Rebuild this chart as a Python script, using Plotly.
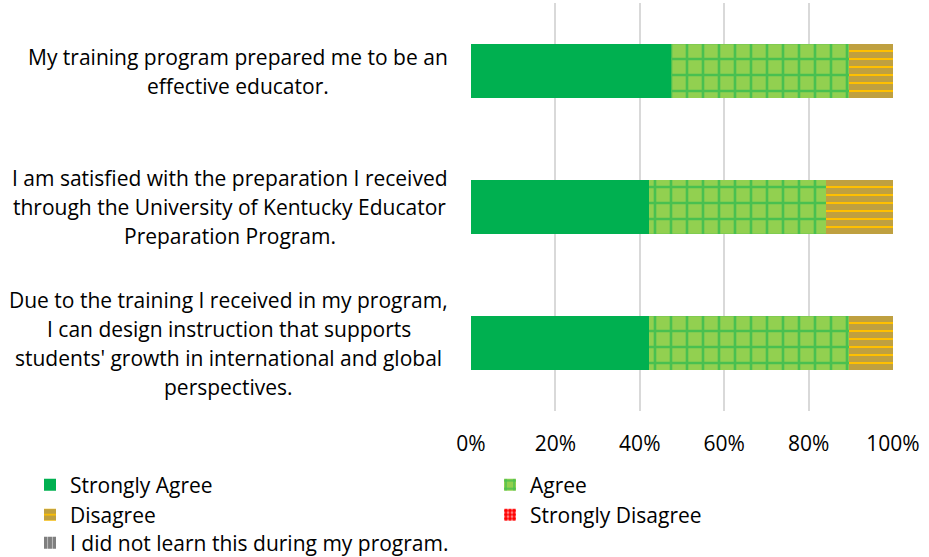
import plotly.graph_objects as go

categories = [
    "My training program prepared me to be an<br>effective educator.",
    "I am satisfied with the preparation I received<br>through the University of Kentucky Educator<br>Preparation Program.",
    "Due to the training I received in my program,<br>I can design instruction that supports<br>students' growth in international and global<br>perspectives.",
]
strongly_agree = [47.4, 42.1, 42.1]
agree = [42.1, 42.1, 47.4]
disagree = [10.5, 15.8, 10.5]
strongly_disagree = [0, 0, 0]
did_not_learn = [0, 0, 0]
x_ticks = [0, 20, 40, 60, 80, 100]
x_tick_labels = ["0%", "20%", "40%", "60%", "80%", "100%"]

FONT = "Open Sans"
FS = 21
cat_ids = [0, 1, 2]
W, H = 929, 557

series = [
    ("Strongly Agree", strongly_agree, dict(color="#00B050"), "legend"),
    ("Agree", agree, dict(color="#92D050", pattern=dict(shape="+", fgcolor="#00B050", bgcolor="#92D050", size=16, solidity=0.3)), "legend2"),
    ("Disagree", disagree, dict(color="#FFC000", pattern=dict(shape="-", fgcolor="#7F7F7F", bgcolor="#FFC000", size=8, solidity=0.75)), "legend3"),
    ("Strongly Disagree", strongly_disagree, dict(color="#FF0000", pattern=dict(shape=".", fgcolor="#FFFFFF", bgcolor="#FF0000", size=5, solidity=0.4)), "legend4"),
    ("I did not learn this during my program.", did_not_learn, dict(color="#7F7F7F", pattern=dict(shape="|", fgcolor="#FFFFFF", bgcolor="#7F7F7F", size=6, solidity=0.2)), "legend5"),
]

fig = go.Figure()
for name, vals, marker, lg in series:
    m = dict(marker)
    m["line"] = dict(width=0)
    fig.add_trace(go.Bar(y=cat_ids, x=vals, name=name, orientation="h", marker=m, legend=lg,
                         hoverinfo="skip"))

# category labels as centred multi-line annotations
line_gap = 29
label_centers_px = [238, 229.5, 228.5]
plot_left = 471
plot_w = 422
plot_top = 3
plot_h = 408
for i, cat in enumerate(categories):
    lines = cat.split("<br>")
    n = len(lines)
    for k, ln in enumerate(lines):
        fig.add_annotation(
            x=(label_centers_px[i] - plot_left) / plot_w, xref="paper",
            y=cat_ids[i], yref="y",
            text=ln, showarrow=False, xanchor="center", yanchor="middle",
            yshift=((n - 1) / 2 - k) * line_gap,
            font=dict(family=FONT, size=FS, color="#000000"),
        )

legend_common = dict(orientation="h", font=dict(family=FONT, size=FS, color="#000000"),
                     bgcolor="rgba(0,0,0,0)", borderwidth=0, xanchor="left", yanchor="middle",
                     xref="container", yref="container", itemclick=False)
legend_pos = {
    "legend": (30, 485),
    "legend2": (490, 485),
    "legend3": (30, 515),
    "legend4": (490, 515),
    "legend5": (30, 543),
}
layout_legends = {}
for k, (lx, ly) in legend_pos.items():
    d = dict(legend_common)
    d["x"] = lx / W
    d["y"] = 1 - ly / H
    layout_legends[k] = d

fig.update_layout(
    barmode="stack",
    bargap=0.6,
    width=W, height=H,
    margin=dict(l=plot_left, r=W - plot_left - plot_w, t=plot_top, b=H - plot_top - plot_h, autoexpand=False),
    paper_bgcolor="#FFFFFF", plot_bgcolor="#FFFFFF",
    font=dict(family=FONT, size=FS, color="#000000"),
    showlegend=True,
    hovermode=False,
    **layout_legends,
)
fig.update_xaxes(range=[0, 100], tickvals=x_ticks, ticktext=x_tick_labels,
                 showgrid=True, gridcolor="#D9D9D9", gridwidth=2, zeroline=False,
                 showline=False, ticks="", ticklabelstandoff=18,
                 tickfont=dict(family=FONT, size=FS, color="#000000"))
fig.update_yaxes(range=[2.5, -0.5], showticklabels=False, showgrid=False,
                 zeroline=False, showline=False, ticks="")

fig.write_html("out.html", config={"displayModeBar": False},
               post_script="document.body.style.margin='0';document.body.style.padding='0';")
